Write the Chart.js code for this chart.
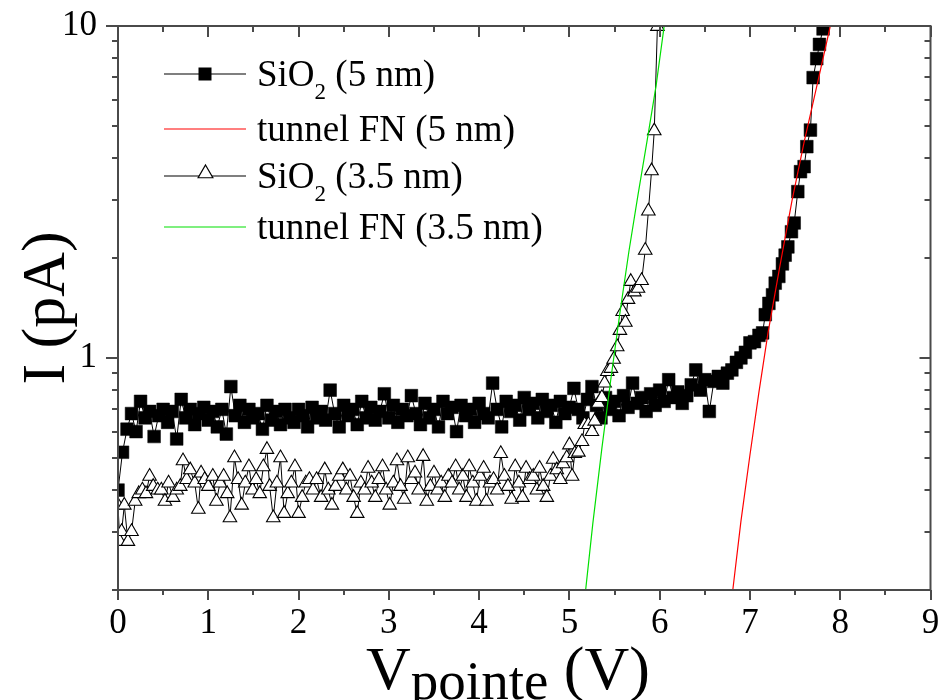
<!DOCTYPE html>
<html>
<head>
<meta charset="utf-8">
<script src="https://cdn.jsdelivr.net/npm/chart.js@4.4.1/dist/chart.umd.min.js"></script>
<style>
  html, body { margin: 0; padding: 0; background: #fff; }
  #wrap { width: 940px; height: 700px; }
</style>
</head>
<body>
<div id="wrap"><canvas id="c" width="940" height="700"></canvas></div>
<script>
// ---- data ----
// SiO2 5 nm (black squares)
var sio5V = [
  0.00,0.05,0.10,0.15,0.20,0.25,0.30,0.35,0.40,0.45,
  0.50,0.55,0.60,0.65,0.70,0.75,0.80,0.85,0.90,0.95,
  1.00,1.05,1.10,1.15,1.20,1.25,1.30,1.35,1.40,1.45,
  1.50,1.55,1.60,1.65,1.70,1.75,1.80,1.85,1.90,1.95,
  2.00,2.05,2.10,2.15,2.20,2.25,2.30,2.35,2.40,2.45,
  2.50,2.55,2.60,2.65,2.70,2.75,2.80,2.85,2.90,2.95,
  3.00,3.05,3.10,3.15,3.20,3.25,3.30,3.35,3.40,3.45,
  3.50,3.55,3.60,3.65,3.70,3.75,3.80,3.85,3.90,3.95,
  4.00,4.05,4.10,4.15,4.20,4.25,4.30,4.35,4.40,4.45,
  4.50,4.55,4.60,4.65,4.70,4.75,4.80,4.85,4.90,4.95,
  5.00,5.05,5.10,5.15,5.20,5.25,5.30,5.35,5.40,5.45,
  5.50,5.55,5.60,5.65,5.70,5.75,5.80,5.85,5.90,5.95,
  6.00,6.05,6.10,6.15,6.20,6.25,6.30,6.35,6.40,6.45,
  6.50,6.55,6.60,6.65,6.70,6.75,6.80,6.85,6.90,6.95,
  7.00,7.05,7.10,7.14,7.17,7.21,7.25,7.28,7.32,7.36,
  7.39,7.42,7.46,7.49,7.53,7.56,7.60,7.63,7.67,7.70,
  7.74,7.77,7.81,7.84
];
var sio5I = [
  0.40,0.52,0.61,0.68,0.60,0.74,0.66,0.69,0.58,0.67,
  0.70,0.64,0.69,0.57,0.75,0.66,0.70,0.63,0.68,0.71,
  0.65,0.69,0.62,0.70,0.59,0.82,0.67,0.72,0.64,0.70,
  0.66,0.68,0.61,0.72,0.65,0.69,0.63,0.70,0.66,0.64,
  0.70,0.67,0.62,0.71,0.66,0.69,0.65,0.80,0.68,0.62,
  0.72,0.67,0.70,0.63,0.74,0.66,0.71,0.65,0.69,0.78,
  0.66,0.72,0.64,0.70,0.67,0.77,0.68,0.63,0.73,0.66,
  0.70,0.62,0.74,0.68,0.71,0.60,0.72,0.67,0.70,0.64,
  0.73,0.68,0.66,0.84,0.70,0.62,0.74,0.69,0.72,0.65,
  0.76,0.70,0.73,0.66,0.75,0.69,0.72,0.64,0.74,0.68,
  0.71,0.81,0.70,0.66,0.75,0.82,0.72,0.66,0.76,0.70,
  0.74,0.67,0.77,0.71,0.84,0.73,0.76,0.69,0.78,0.72,
  0.80,0.74,0.86,0.76,0.79,0.73,0.77,0.83,0.92,0.80,
  0.86,0.69,0.85,0.88,0.84,0.90,0.92,0.97,1.00,1.04,
  1.11,1.12,1.17,1.19,1.35,1.46,1.55,1.68,1.76,1.92,
  2.04,2.16,2.40,2.55,3.17,3.64,3.77,4.33,4.86,6.99,
  7.97,8.80,9.80,10.6
];
// Fowler-Nordheim fit, 5 nm (red)
var fn5V = [6.81,6.90,7.00,7.10,7.20,7.33,7.467,7.60,7.75,7.89];
var fn5I = [0.20,0.322,0.51,0.79,1.19,1.88,2.99,4.47,6.76,10.0];
// SiO2 3.5 nm (open triangles)
var sio35V = [
  0.00,0.02,0.04,0.07,0.11,0.15,0.19,0.23,0.27,0.31,
  0.35,0.39,0.44,0.48,0.52,0.56,0.61,0.65,0.69,0.72,
  0.76,0.80,0.85,0.89,0.92,0.96,1.00,1.05,1.09,1.13,
  1.17,1.21,1.24,1.29,1.33,1.37,1.41,1.45,1.49,1.53,
  1.57,1.61,1.65,1.68,1.72,1.76,1.80,1.84,1.88,1.92,
  1.96,2.00,2.04,2.08,2.12,2.16,2.20,2.25,2.29,2.33,
  2.37,2.41,2.45,2.49,2.53,2.57,2.61,2.65,2.69,2.73,
  2.77,2.81,2.85,2.89,2.93,2.97,3.01,3.05,3.09,3.13,
  3.17,3.21,3.25,3.29,3.33,3.38,3.42,3.46,3.50,3.54,
  3.58,3.62,3.66,3.70,3.74,3.78,3.82,3.86,3.89,3.93,
  3.97,4.01,4.05,4.08,4.12,4.16,4.20,4.24,4.28,4.32,
  4.36,4.40,4.44,4.48,4.52,4.56,4.60,4.64,4.67,4.71,
  4.75,4.79,4.82,4.86,4.90,4.93,4.97,5.00,5.03,5.06,
  5.10,5.14,5.17,5.21,5.25,5.28,5.32,5.36,5.39,5.42,
  5.46,5.49,5.53,5.56,5.59,5.62,5.65,5.68,5.72,5.76,
  5.80,5.84,5.875,5.91,5.94,5.975,5.99
];
var sio35I = [
  0.36,0.28,0.30,0.36,0.28,0.30,0.37,0.39,0.40,0.39,
  0.44,0.41,0.40,0.40,0.37,0.42,0.38,0.40,0.41,0.49,
  0.43,0.46,0.42,0.35,0.45,0.43,0.41,0.44,0.37,0.42,
  0.44,0.39,0.33,0.50,0.43,0.36,0.42,0.47,0.40,0.43,
  0.39,0.47,0.53,0.41,0.33,0.42,0.50,0.34,0.39,0.42,
  0.47,0.34,0.38,0.42,0.43,0.40,0.43,0.38,0.46,0.40,
  0.36,0.41,0.44,0.46,0.40,0.44,0.38,0.34,0.42,0.40,
  0.465,0.42,0.38,0.43,0.47,0.40,0.36,0.42,0.49,0.41,
  0.375,0.50,0.43,0.45,0.40,0.505,0.37,0.41,0.45,0.40,
  0.42,0.38,0.44,0.42,0.47,0.40,0.44,0.38,0.47,0.42,
  0.37,0.44,0.465,0.37,0.42,0.43,0.40,0.515,0.44,0.41,
  0.375,0.47,0.42,0.38,0.465,0.43,0.44,0.40,0.465,0.41,
  0.38,0.44,0.495,0.46,0.43,0.48,0.50,0.547,0.44,0.515,
  0.52,0.56,0.63,0.63,0.60,0.645,0.73,0.76,0.84,0.91,
  0.93,0.99,1.08,1.21,1.38,1.28,1.50,1.70,1.58,1.62,
  1.71,2.11,2.77,3.66,4.83,9.97,11.0
];
// Fowler-Nordheim fit, 3.5 nm (green)
var fn35V = [5.18,5.26,5.36,5.46,5.56,5.66,5.76,5.86,5.96,6.05];
var fn35I = [0.20,0.318,0.535,0.867,1.37,2.10,3.10,4.50,6.60,10.0];

var legendLabels = ['SiO2 (5 nm)', 'tunnel FN (5 nm)', 'SiO2 (3.5 nm)', 'tunnel FN (3.5 nm)'];
var xTicks = [0, 1, 2, 3, 4, 5, 6, 7, 8, 9];
var xMinor = [0.5, 1.5, 2.5, 3.5, 4.5, 5.5, 6.5, 7.5, 8.5];
var yTicks = [1, 10];
var yMinor = [0.2, 0.3, 0.4, 0.5, 0.6, 0.7, 0.8, 0.9, 2, 3, 4, 5, 6, 7, 8, 9];

function pts(xs, ys) {
  return xs.map(function(v, i) { return { x: v, y: ys[i] }; });
}

var AXIS = '#4a4a4a';
var SERIF = '"Liberation Serif", "DejaVu Serif", serif';

function noPad(s) {
  s.paddingLeft = 0; s.paddingRight = 0; s.paddingTop = 0; s.paddingBottom = 0;
}

// frame with ticks on all four sides (outward bottom/left, inward top/right)
var framePlugin = {
  id: 'frame',
  afterDatasetsDraw: function(chart) {
    var ctx = chart.ctx, a = chart.chartArea;
    var xs = chart.scales.x, ys = chart.scales.y;
    ctx.save();
    ctx.strokeStyle = AXIS;
    ctx.lineWidth = 2;
    ctx.strokeRect(a.left, a.top, a.right - a.left, a.bottom - a.top);
    ctx.beginPath();
    xTicks.forEach(function(v) {
      var p = Math.round(xs.getPixelForValue(v));
      ctx.moveTo(p, a.bottom); ctx.lineTo(p, a.bottom + 10);
      ctx.moveTo(p, a.top); ctx.lineTo(p, a.top + 11);
    });
    xMinor.forEach(function(v) {
      var p = Math.round(xs.getPixelForValue(v));
      ctx.moveTo(p, a.bottom); ctx.lineTo(p, a.bottom + 5);
      ctx.moveTo(p, a.top); ctx.lineTo(p, a.top + 6);
    });
    yTicks.forEach(function(v) {
      var p = Math.round(ys.getPixelForValue(v));
      ctx.moveTo(a.left, p); ctx.lineTo(a.left - 12, p);
      ctx.moveTo(a.right, p); ctx.lineTo(a.right - 11, p);
    });
    yMinor.forEach(function(v) {
      var p = Math.round(ys.getPixelForValue(v));
      ctx.moveTo(a.left, p); ctx.lineTo(a.left - 6, p);
      ctx.moveTo(a.right, p); ctx.lineTo(a.right - 6, p);
    });
    ctx.stroke();
    ctx.restore();
  },
  afterDraw: function(chart) {
    var ctx = chart.ctx;
    ctx.save();
    ctx.fillStyle = '#000';
    // y title
    ctx.save();
    ctx.translate(64, 308);
    ctx.rotate(-Math.PI / 2);
    ctx.font = '62px ' + SERIF;
    ctx.textAlign = 'center';
    ctx.textBaseline = 'alphabetic';
    ctx.fillText('I (pA)', 0, 0);
    ctx.restore();
    // x title with subscript
    var big = '62px ' + SERIF, small = '55px ' + SERIF;
    ctx.font = big; var w1 = ctx.measureText('V').width;
    ctx.font = small; var w2 = ctx.measureText('pointe').width;
    ctx.font = big; var w3 = ctx.measureText(' (V)').width;
    var x0 = 508 - (w1 + w2 + w3) / 2, base = 689;
    ctx.textAlign = 'left';
    ctx.font = big; ctx.fillText('V', x0, base);
    ctx.font = small; ctx.fillText('pointe', x0 + w1, base + 10);
    ctx.font = big; ctx.fillText(' (V)', x0 + w1 + w2, base);

    // legend
    var rows = [74, 129, 176, 227];
    var styles = [
      { line: '#000', mark: 'rect' },
      { line: '#ff0000', mark: null },
      { line: '#000', mark: 'tri' },
      { line: '#00e000', mark: null }
    ];
    rows.forEach(function(y, i) {
      var s = styles[i];
      ctx.strokeStyle = s.line; ctx.lineWidth = 1.2;
      ctx.beginPath(); ctx.moveTo(164, y); ctx.lineTo(246, y); ctx.stroke();
      if (s.mark === 'rect') {
        ctx.fillStyle = '#000';
        ctx.fillRect(198.5, y - 6.5, 13, 13);
      } else if (s.mark === 'tri') {
        var r = 8.5, cy = y - 2.5;
        ctx.beginPath();
        ctx.moveTo(205.5, cy - r);
        ctx.lineTo(205.5 + r * 0.866, cy + r / 2);
        ctx.lineTo(205.5 - r * 0.866, cy + r / 2);
        ctx.closePath();
        ctx.fillStyle = '#fff'; ctx.fill();
        ctx.strokeStyle = '#000'; ctx.lineWidth = 1.2; ctx.stroke();
      }
      ctx.fillStyle = '#000';
      var lab = legendLabels[i], tx = 257, ty = y + 12;
      var m = /^(SiO)(2)(.*)$/.exec(lab);
      ctx.font = '37px ' + SERIF;
      if (m) {
        ctx.fillText(m[1], tx, ty);
        var wa = ctx.measureText(m[1]).width;
        ctx.font = '23px ' + SERIF;
        ctx.fillText(m[2], tx + wa, ty + 13);
        var wb = ctx.measureText(m[2]).width;
        ctx.font = '37px ' + SERIF;
        ctx.fillText(m[3], tx + wa + wb, ty);
      } else {
        ctx.fillText(lab, tx, ty);
      }
    });
    ctx.restore();
  }
};

new Chart(document.getElementById('c'), {
  type: 'line',
  data: {
    datasets: [
      {
        label: legendLabels[1], data: pts(fn5V, fn5I),
        borderColor: '#ff0000', borderWidth: 1.2, pointRadius: 0, order: 0, clip: 0
      },
      {
        label: legendLabels[3], data: pts(fn35V, fn35I),
        borderColor: '#00e000', borderWidth: 1.2, pointRadius: 0, order: 0, clip: 0
      },
      {
        label: legendLabels[2], data: pts(sio35V, sio35I),
        borderColor: '#000', borderWidth: 1, pointStyle: 'triangle', pointRadius: 7.8,
        pointBackgroundColor: '#fff', pointBorderColor: '#000', pointBorderWidth: 1.1,
        order: 1, clip: 0
      },
      {
        label: legendLabels[0], data: pts(sio5V, sio5I),
        borderColor: '#000', borderWidth: 1, pointStyle: 'rect', pointRadius: 9,
        pointBackgroundColor: '#000', pointBorderColor: '#000', pointBorderWidth: 0.5,
        order: 2, clip: 0
      }
    ]
  },
  options: {
    responsive: false,
    animation: false,
    events: [],
    layout: { padding: { left: 0, top: 26, right: 8, bottom: 0 } },
    plugins: { legend: { display: false }, tooltip: { enabled: false } },
    scales: {
      x: {
        type: 'linear', min: 0, max: 9,
        grid: { display: false, drawTicks: false },
        border: { display: false },
        afterBuildTicks: function(s) { s.ticks = xTicks.map(function(v) { return { value: v }; }); },
        afterFit: function(s) { s.height = 110; noPad(s); },
        ticks: { autoSkip: false, maxRotation: 0, padding: 13, color: '#000',
                 font: { family: SERIF, size: 35 } }
      },
      y: {
        type: 'logarithmic', min: 0.2, max: 10,
        grid: { display: false, drawTicks: false },
        border: { display: false },
        afterBuildTicks: function(s) { s.ticks = yTicks.map(function(v) { return { value: v }; }); },
        afterFit: function(s) { s.width = 118; noPad(s); },
        ticks: { autoSkip: false, padding: 21, color: '#000',
                 font: { family: SERIF, size: 35 },
                 callback: function(v) { return String(v); } }
      }
    }
  },
  plugins: [framePlugin]
});
</script>
</body>
</html>
